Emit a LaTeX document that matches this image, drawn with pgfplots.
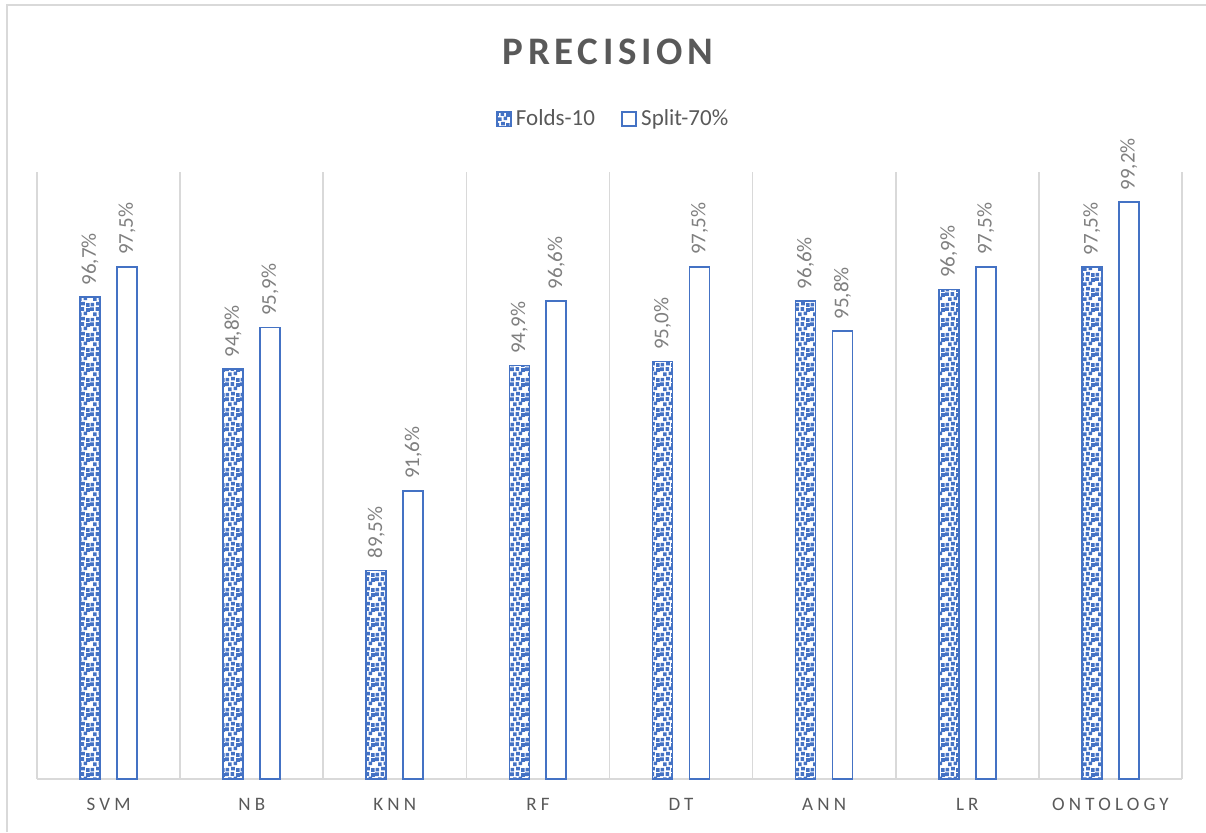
\documentclass[border=0pt]{standalone}
\usepackage{fontspec}
\setmainfont{Carlito}
\newfontfamily\spaced[LetterSpace=22]{Carlito}
\newfontfamily\titlefont[LetterSpace=12]{Carlito}
\usepackage{pgfplots}
\pgfplotsset{compat=1.18}
\usetikzlibrary{patterns}

\definecolor{accent}{HTML}{4472C4}
\definecolor{gridc}{HTML}{D9D9D9}
\definecolor{textc}{HTML}{595959}
\definecolor{labelc}{HTML}{7F7F7F}

% small scattered squares, like a confetti fill
\pgfdeclarepatternformonly{confetti}{\pgfqpoint{-0.1pt}{-0.1pt}}{\pgfqpoint{7.6pt}{7.6pt}}{\pgfqpoint{7.5pt}{7.5pt}}{
  \pgfpathrectangle{\pgfqpoint{0.3pt}{0.3pt}}{\pgfqpoint{1.8pt}{1.8pt}}
  \pgfpathrectangle{\pgfqpoint{3.1pt}{0.8pt}}{\pgfqpoint{1.8pt}{1.8pt}}
  \pgfpathrectangle{\pgfqpoint{5.5pt}{0.1pt}}{\pgfqpoint{1.8pt}{1.8pt}}
  \pgfpathrectangle{\pgfqpoint{1.5pt}{3.0pt}}{\pgfqpoint{1.8pt}{1.8pt}}
  \pgfpathrectangle{\pgfqpoint{4.3pt}{3.4pt}}{\pgfqpoint{1.8pt}{1.8pt}}
  \pgfpathrectangle{\pgfqpoint{0.1pt}{5.5pt}}{\pgfqpoint{1.8pt}{1.8pt}}
  \pgfpathrectangle{\pgfqpoint{2.8pt}{5.6pt}}{\pgfqpoint{1.8pt}{1.8pt}}
  \pgfpathrectangle{\pgfqpoint{5.6pt}{5.1pt}}{\pgfqpoint{1.8pt}{1.8pt}}
  \pgfusepath{fill}
}

\pgfplotstableread{
x  folds split
0  96.7  97.5
1  94.8  95.9
2  89.5  91.6
3  94.9  96.6
4  95.0  97.5
5  96.6  95.8
6  96.9  97.5
7  97.5  99.2
}\precision

\begin{document}
\begin{tikzpicture}
\useasboundingbox (0,0) rectangle (603pt,416pt);
% outer chart frame
\draw[gridc, line width=0.8pt] (3.5pt,0pt) -- (3.5pt,413.5pt) -- (603pt,413.5pt);
% chart title
\node[font={\titlefont\fontsize{19.5}{22}\selectfont\bfseries}, text=textc, anchor=center, inner sep=0pt]
  at (304pt,390.3pt) {PRECISION};

\begin{axis}[
  at={(18.5pt,26.5pt)}, anchor=south west,
  scale only axis,
  width=572.5pt, height=303.5pt,
  ymin=84, ymax=100,
  xmin=-0.5, xmax=7.5,
  clip=false,
  axis x line*=bottom,
  axis y line=none,
  x axis line style={draw=gridc, line width=0.8pt},
  xtick={0,...,7},
  xticklabels={SVM,NB,KNN,RF,DT,ANN,LR,ONTOLOGY},
  xticklabel style={font={\spaced\fontsize{9.5}{11}\selectfont}, text=textc, yshift=-6pt},
  minor xtick={-0.5,0.5,...,7.5},
  xminorgrids=true,
  minor grid style={draw=gridc, line width=0.8pt},
  major tick length=0pt, minor tick length=0pt,
  ytick=\empty,
  ybar, bar width=10pt,
  nodes near coords={\pgfmathprintnumber[fixed,fixed zerofill,precision=1,use comma,assume math mode=true]{\pgfplotspointmeta}\%},
  every node near coord/.append style={rotate=90, anchor=west, inner xsep=5.5pt,
    font={\fontsize{10.5}{12}\selectfont}, text=labelc},
  legend columns=2,
  legend style={at={(0.504,1.087)}, anchor=center, draw=none, fill=none,
    font={\fontsize{11.5}{13}\selectfont}, text=textc,
    /tikz/every even column/.append style={column sep=11pt},
    inner sep=0pt},
  legend image code/.code={\draw[#1] (0pt,-3.6pt) rectangle (7.2pt,3.6pt);},
]
\addplot[bar shift=-9.3pt, draw=accent, line width=0.8pt,
  pattern=confetti, pattern color=accent]
  table[x=x, y=folds] {\precision};
\addplot[bar shift=9.2pt, draw=accent, line width=0.9pt, fill=white]
  table[x=x, y=split] {\precision};
\legend{Folds-10, Split-70\%}
\end{axis}
\end{tikzpicture}
\end{document}
